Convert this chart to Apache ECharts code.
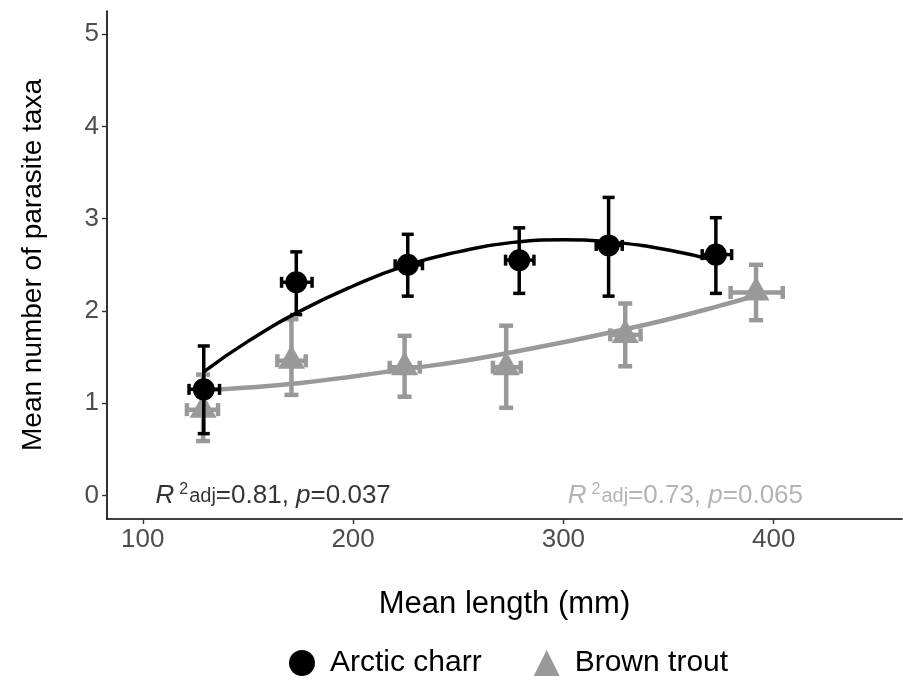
<!DOCTYPE html>
<html><head><meta charset="utf-8">
<script src="https://cdn.jsdelivr.net/npm/echarts@6/dist/echarts.min.js"></script>
<style>html,body{margin:0;padding:0;background:#fff}#c{width:903px;height:687px}</style>
</head><body><div id="c"></div>
<script>
// ---- data ----
const xTicks = [100, 200, 300, 400];
const yTicks = [0, 1, 2, 3, 4, 5];

const charrX     = [129, 173, 226, 279, 321.5, 372.5];
const charrY     = [1.15, 2.31, 2.50, 2.55, 2.71, 2.61];
const charrYLow  = [0.67, 1.96, 2.16, 2.19, 2.16, 2.19];
const charrYHigh = [1.62, 2.64, 2.83, 2.90, 3.23, 3.01];
const charrXLow  = [122, 166, 220, 272.5, 315.6, 366];
const charrXHigh = [136.5, 180.5, 233, 286, 328, 380];

const troutX     = [128.7, 170.7, 224.5, 272.8, 329.4, 391.6];
const troutY     = [0.93, 1.46, 1.39, 1.39, 1.74, 2.20];
const troutYLow  = [0.59, 1.09, 1.07, 0.95, 1.40, 1.90];
const troutYHigh = [1.31, 1.91, 1.73, 1.84, 2.08, 2.50];
const troutXLow  = [121, 164, 217.4, 266.5, 322.3, 379.5];
const troutXHigh = [135.8, 177.5, 231.7, 279.7, 336.7, 404.3];

// fitted curves
const charrFitX = [129, 150, 175, 200, 225, 250, 275, 300, 325, 350, 373];
const charrFitY = [1.34, 1.67, 2.00, 2.27, 2.49, 2.64, 2.74, 2.77, 2.74, 2.66, 2.54];
const troutFitX = [129, 150, 175, 200, 225, 250, 275, 300, 325, 350, 375, 392];
const troutFitY = [1.14, 1.17, 1.22, 1.29, 1.37, 1.45, 1.55, 1.66, 1.78, 1.91, 2.06, 2.17];

const annotX = [162, 358];
const annotY = [0, 0];
const annotR2 = ['0.81', '0.73'];
const annotP = ['0.037', '0.065'];

const seriesNames = ['Arctic charr', 'Brown trout'];

// ---- build ----
const FONT = "'Liberation Sans', Arial, sans-serif";
const BLACK = '#000000';
const GREY = '#999999';

function zip(a, b) { return a.map((v, i) => [v, b[i]]); }
function errData(x, y, xl, xh, yl, yh) { return x.map((v, i) => [v, y[i], xl[i], xh[i], yl[i], yh[i]]); }

function errRender(color, lw, capV, capH) {
  return function (params, api) {
    const x = api.value(0), y = api.value(1), xl = api.value(2), xh = api.value(3), yl = api.value(4), yh = api.value(5);
    const pl = api.coord([x, yl]), ph = api.coord([x, yh]);
    const pxl = api.coord([xl, y]), pxh = api.coord([xh, y]);
    const st = { stroke: color, lineWidth: lw, fill: null };
    const L = (x1, y1, x2, y2) => ({ type: 'line', shape: { x1, y1, x2, y2 }, style: st });
    return {
      type: 'group',
      children: [
        L(pl[0], pl[1], ph[0], ph[1]),
        L(pl[0] - capV / 2, pl[1], pl[0] + capV / 2, pl[1]),
        L(ph[0] - capV / 2, ph[1], ph[0] + capV / 2, ph[1]),
        L(pxl[0], pxl[1], pxh[0], pxh[1]),
        L(pxl[0], pxl[1] - capH / 2, pxl[0], pxl[1] + capH / 2),
        L(pxh[0], pxh[1] - capH / 2, pxh[0], pxh[1] + capH / 2)
      ]
    };
  };
}

function annotLabel(i) {
  return '{i|R}{sup|2}{s|adj}{n|=' + annotR2[i] + ', }{i|p}{n|=' + annotP[i] + '}';
}
const annotRich = {
  i: { fontStyle: 'italic', fontSize: 26, lineHeight: 30, fontFamily: FONT },
  n: { fontSize: 26, lineHeight: 30, fontFamily: FONT },
  sup: { fontSize: 16, lineHeight: 16, padding: [1, 1, 13, 5], fontFamily: FONT },
  s: { fontSize: 20, lineHeight: 20, padding: [6, 0, 4, 0], fontFamily: FONT }
};

const chart = echarts.init(document.getElementById('c'), null, { renderer: 'canvas' });
chart.setOption({
  animation: false,
  backgroundColor: '#ffffff',
  textStyle: { fontFamily: FONT },
  grid: { left: 107, right: 1, top: 11, bottom: 168, containLabel: false },
  xAxis: {
    type: 'value', min: 83, max: 461,
    name: 'Mean length (mm)', nameLocation: 'middle', nameGap: 70,
    nameTextStyle: { fontSize: 31, color: '#000', fontFamily: FONT },
    axisLine: { show: true, onZero: false, lineStyle: { color: '#000', width: 1.6 } },
    axisTick: { show: true, customValues: xTicks, length: 5, lineStyle: { color: '#333', width: 1.4 } },
    axisLabel: { customValues: xTicks, fontSize: 26, color: '#4D4D4D', margin: 8, fontFamily: FONT },
    splitLine: { show: false }
  },
  yAxis: {
    type: 'value', min: -0.255, max: 5.25,
    name: 'Mean number of parasite taxa', nameLocation: 'middle', nameGap: 60,
    nameTextStyle: { fontSize: 28, color: '#000', fontFamily: FONT },
    axisLine: { show: true, onZero: false, lineStyle: { color: '#000', width: 1.6 } },
    axisTick: { show: true, customValues: yTicks, length: 5, lineStyle: { color: '#333', width: 1.4 } },
    axisLabel: { customValues: yTicks, fontSize: 26, color: '#4D4D4D', margin: 8, fontFamily: FONT },
    splitLine: { show: false }
  },
  legend: {
    data: seriesNames,
    bottom: 4, left: 284,
    itemWidth: 26, itemHeight: 26, itemGap: 52,
    textStyle: { fontSize: 30, color: '#000', fontFamily: FONT, padding: [0, 0, 0, 10] }
  },
  series: [
    { name: 'trout-err', type: 'custom', z: 2, renderItem: errRender(GREY, 4.5, 14, 13),
      data: errData(troutX, troutY, troutXLow, troutXHigh, troutYLow, troutYHigh), silent: true },
    { name: 'trout-fit', type: 'line', z: 2, smooth: true, showSymbol: false, symbol: 'none',
      lineStyle: { color: GREY, width: 4.5 }, data: zip(troutFitX, troutFitY), silent: true },
    { name: seriesNames[1], type: 'scatter', z: 3, symbol: 'triangle', symbolSize: [27, 24], symbolOffset: [0, -4],
      itemStyle: { color: GREY, opacity: 1 }, data: zip(troutX, troutY) },
    { name: 'charr-err', type: 'custom', z: 4, renderItem: errRender(BLACK, 3.5, 12, 11),
      data: errData(charrX, charrY, charrXLow, charrXHigh, charrYLow, charrYHigh), silent: true },
    { name: 'charr-fit', type: 'line', z: 4, smooth: true, showSymbol: false, symbol: 'none',
      lineStyle: { color: BLACK, width: 3.5 }, data: zip(charrFitX, charrFitY), silent: true },
    { name: seriesNames[0], type: 'scatter', z: 5, symbol: 'circle', symbolSize: 22,
      itemStyle: { color: BLACK, opacity: 1 }, data: zip(charrX, charrY) },
    { name: 'annot-charr', type: 'scatter', z: 6, symbolSize: 2, itemStyle: { color: 'rgba(0,0,0,0)' },
      data: [[annotX[0], annotY[0]]], silent: true,
      label: { show: true, position: 'inside', color: '#000', formatter: () => annotLabel(0), rich: annotRich } },
    { name: 'annot-trout', type: 'scatter', z: 6, symbolSize: 2, itemStyle: { color: 'rgba(0,0,0,0)' },
      data: [[annotX[1], annotY[1]]], silent: true,
      label: { show: true, position: 'inside', color: '#A0A0A0', formatter: () => annotLabel(1), rich: annotRich } }
  ]
});
</script></body></html>
